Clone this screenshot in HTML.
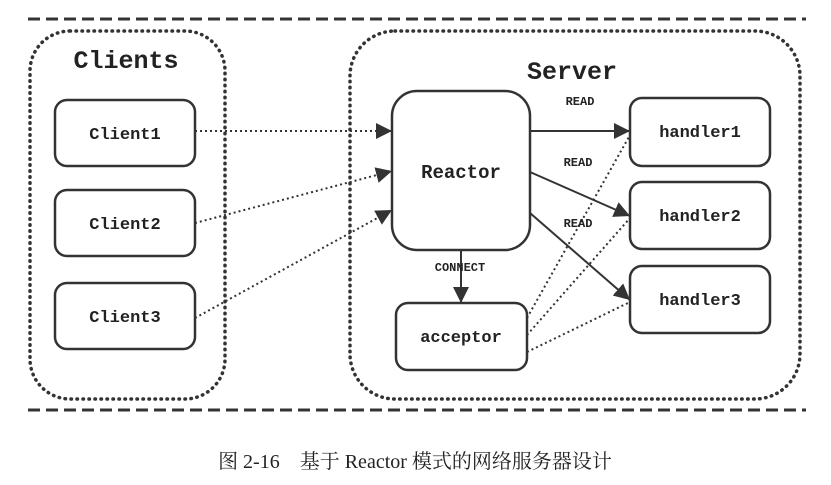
<!DOCTYPE html>
<html><head><meta charset="utf-8"><style>
body{margin:0;background:#fff;width:831px;height:480px;overflow:hidden}
svg text{font-family:"Liberation Mono","DejaVu Sans Mono",monospace;font-weight:bold;fill:#222}
</style></head><body>
<svg width="831" height="480" viewBox="0 0 831 480">
<defs>
<marker id="b" viewBox="0 0 10 10" markerWidth="16" markerHeight="16" refX="10" refY="5" orient="auto" markerUnits="userSpaceOnUse"><path d="M0,0 L10,5 L0,10 z" fill="#333"/></marker>
</defs>
<g stroke="#333" fill="none">
<line x1="28" y1="19" x2="806" y2="19" stroke-width="3" stroke-dasharray="12,6"/>
<line x1="28" y1="410" x2="806" y2="410" stroke-width="3" stroke-dasharray="12,6"/>
<rect x="30" y="31" width="195" height="368" rx="40" stroke-width="3.5" stroke-dasharray="0.5,5.5" stroke-linecap="round"/>
<rect x="350" y="31" width="450" height="368" rx="45" stroke-width="3.5" stroke-dasharray="0.5,5.5" stroke-linecap="round"/>
<g stroke-width="2.5">
<rect x="55" y="100" width="140" height="66" rx="12"/>
<rect x="55" y="190" width="140" height="66" rx="12"/>
<rect x="55" y="283" width="140" height="66" rx="12"/>
<rect x="392" y="91" width="138" height="159" rx="25"/>
<rect x="396" y="303" width="131" height="67" rx="12"/>
<rect x="630" y="98" width="140" height="68" rx="12"/>
<rect x="630" y="182" width="140" height="67" rx="12"/>
<rect x="630" y="266" width="140" height="67" rx="12"/>
</g>
<g stroke-width="2" stroke-dasharray="2,3">
<line x1="195" y1="131" x2="392" y2="131" marker-end="url(#b)"/>
<line x1="195" y1="223" x2="392" y2="171" marker-end="url(#b)"/>
<line x1="195" y1="318" x2="392" y2="210" marker-end="url(#b)"/>
<line x1="527" y1="318" x2="630" y2="135"/>
<line x1="527" y1="335" x2="630" y2="218"/>
<line x1="527" y1="352" x2="630" y2="302"/>
</g>
<g stroke-width="2">
<line x1="530" y1="131" x2="630" y2="131" marker-end="url(#b)"/>
<line x1="530" y1="172" x2="630" y2="216" marker-end="url(#b)"/>
<line x1="530" y1="213" x2="630" y2="300" marker-end="url(#b)"/>
<line x1="461" y1="250" x2="461" y2="303" marker-end="url(#b)"/>
</g>
</g>
<text x="126" y="68" font-size="25" text-anchor="middle">Clients</text>
<text x="572" y="79" font-size="25" text-anchor="middle">Server</text>
<g font-size="17" text-anchor="middle">
<text x="125" y="139">Client1</text>
<text x="125" y="229">Client2</text>
<text x="125" y="322">Client3</text>
<text x="461" y="178" font-size="19">Reactor</text>
<text x="461" y="342">acceptor</text>
<text x="700" y="137">handler1</text>
<text x="700" y="221">handler2</text>
<text x="700" y="305">handler3</text>
</g>
<g font-size="12" text-anchor="middle">
<text x="580" y="105">READ</text>
<text x="578" y="166">READ</text>
<text x="578" y="227">READ</text>
<text x="460" y="271">CONNECT</text>
</g>
<text x="415" y="468" font-size="20" text-anchor="middle" style="font-family:'Liberation Serif','Noto Serif CJK SC',serif;font-weight:normal">图 2-16　基于 Reactor 模式的网络服务器设计</text>
</svg>
</body></html>
